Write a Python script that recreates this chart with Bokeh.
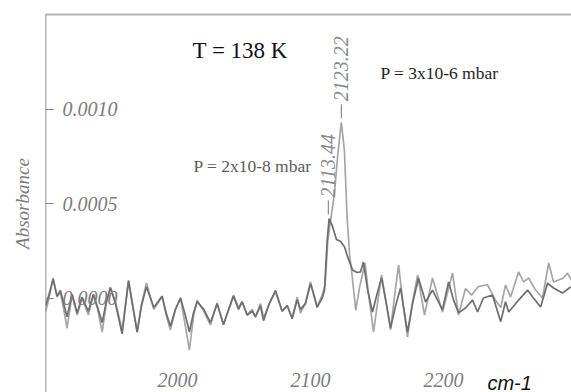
import math
from bokeh.plotting import figure
from bokeh.models import LinearAxis, FixedTicker, PrintfTickFormatter, Range1d, Label, ColumnDataSource
from bokeh.embed import file_html
from bokeh.resources import INLINE
from bokeh.core.properties import value

# ---------------- data ----------------
wn_light = [1901.0, 1903.5, 1906.5, 1909.5, 1912.0, 1914.5, 1917.0, 1920.8, 1924.6, 1928.3,
            1933.0, 1936.8, 1940.0, 1943.4, 1946.5, 1949.6, 1953.4, 1958.4, 1963.2, 1966.5,
            1969.7, 1973.0, 1976.7, 1982.2, 1988.5, 1991.5, 1994.7, 1998.5, 2002.3, 2005.5,
            2009.0, 2012.0, 2014.8, 2019.8, 2024.8, 2029.8, 2034.6, 2038.5, 2042.1, 2045.9,
            2048.6, 2052.4, 2056.2, 2058.6, 2062.4, 2064.7, 2069.0, 2073.7, 2078.7, 2082.5,
            2086.2, 2090.0, 2092.5, 2096.2, 2100.0, 2102.5, 2105.0, 2108.8, 2111.0, 2113.0,
            2115.5, 2118.0, 2120.5, 2123.2, 2125.5, 2127.5, 2129.5, 2131.0, 2134.0, 2137.0,
            2141.0, 2144.0, 2147.4, 2150.5, 2153.4, 2157.0, 2160.2, 2163.0, 2166.2, 2169.5,
            2172.9, 2176.5, 2180.5, 2185.7, 2191.7, 2199.2, 2206.8, 2211.3, 2216.5, 2221.0,
            2226.0, 2233.0, 2239.0, 2243.0, 2246.6, 2250.4, 2256.4, 2260.2, 2264.0, 2269.2,
            2274.4, 2279.0, 2282.7, 2286.5, 2290.2, 2293.2, 2296.2]
abs_light = [-0.000070, 0.000000, 0.000106, 0.000005, 0.000030, -0.000060, -0.000160, 0.000016, -0.000090, 0.000000,
             -0.000090, 0.000016, -0.000060, -0.000180, -0.000030, 0.000053, -0.000020, -0.000170, 0.000095, -0.000040,
             -0.000180, -0.000030, 0.000079, -0.000060, 0.000007, -0.000090, -0.000170, -0.000060, 0.000000, -0.000130,
             -0.000275, -0.000100, -0.000011, -0.000070, -0.000143, -0.000026, -0.000143, -0.000060, 0.000016, -0.000050,
             -0.000020, -0.000090, -0.000060, -0.000100, -0.000030, -0.000106, -0.000030, 0.000032, -0.000070, -0.000040,
             -0.000106, 0.000005, -0.000080, -0.000026, 0.000086, 0.000010, -0.000045, 0.000016, 0.000070, 0.000300,
             0.000430, 0.000550, 0.000760, 0.000930, 0.000780, 0.000430, 0.000220, 0.000140, -0.000065, 0.000060,
             0.000185, 0.000000, -0.000180, -0.000020, 0.000122, -0.000030, -0.000169, 0.000000, 0.000175, -0.000030,
             -0.000206, -0.000030, 0.000122, -0.000090, 0.000106, -0.000074, 0.000132, -0.000090, 0.000050, 0.000015,
             0.000060, 0.000070, -0.000010, -0.000050, 0.000069, 0.000005, 0.000138, 0.000085, 0.000106, 0.000042,
             0.000000, 0.000185, 0.000085, 0.000095, 0.000106, 0.000132, 0.000095]

wn_dark = [1901.0, 1903.5, 1906.5, 1909.5, 1912.0, 1914.5, 1917.0, 1920.8, 1924.6, 1928.3,
           1933.0, 1936.8, 1940.0, 1943.4, 1946.5, 1949.6, 1953.4, 1958.4, 1963.2, 1966.5,
           1969.7, 1973.0, 1976.7, 1982.2, 1988.5, 1991.5, 1994.7, 1998.5, 2002.3, 2005.5,
           2009.0, 2012.0, 2014.8, 2019.8, 2024.8, 2029.8, 2034.6, 2038.5, 2042.1, 2045.9,
           2048.6, 2052.4, 2056.2, 2058.6, 2062.4, 2064.7, 2069.0, 2073.7, 2078.7, 2082.5,
           2086.2, 2090.0, 2092.5, 2096.2, 2100.0, 2102.5, 2105.0, 2108.8, 2110.5, 2112.5,
           2114.0, 2116.5, 2119.5, 2122.5, 2125.6, 2127.8, 2131.6, 2135.0, 2137.6, 2139.8,
           2143.0, 2146.6, 2150.0, 2153.4, 2157.0, 2160.2, 2164.0, 2167.7, 2170.0, 2172.9,
           2177.0, 2181.2, 2186.5, 2191.7, 2199.2, 2203.8, 2207.5, 2211.3, 2216.5, 2221.8,
           2225.6, 2230.0, 2236.8, 2243.0, 2246.6, 2249.0, 2256.4, 2263.2, 2267.0, 2273.0,
           2278.2, 2282.7, 2289.5, 2295.5]
abs_dark = [-0.000040, 0.000020, 0.000100, 0.000010, 0.000040, -0.000030, -0.000100, 0.000020, -0.000080, 0.000005,
            -0.000070, 0.000020, -0.000050, -0.000130, -0.000020, 0.000055, -0.000030, -0.000190, 0.000090, -0.000050,
            -0.000180, -0.000040, 0.000060, -0.000050, 0.000010, -0.000080, -0.000150, -0.000060, 0.000000, -0.000080,
            -0.000180, -0.000080, -0.000020, -0.000060, -0.000130, -0.000030, -0.000140, -0.000060, 0.000010, -0.000060,
            -0.000020, -0.000090, -0.000070, -0.000100, -0.000040, -0.000120, -0.000030, 0.000040, -0.000070, -0.000040,
            -0.000110, -0.000010, -0.000060, -0.000030, 0.000075, 0.000020, -0.000050, 0.000000, 0.000040, 0.000300,
            0.000420, 0.000380, 0.000310, 0.000300, 0.000270, 0.000220, 0.000148, 0.000135, 0.000138, 0.000190,
            0.000040, -0.000074, 0.000020, 0.000106, -0.000030, -0.000159, -0.000040, 0.000053, -0.000050, -0.000180,
            -0.000020, 0.000106, -0.000021, 0.000042, -0.000063, 0.000085, -0.000010, -0.000079, -0.000053, -0.000011,
            -0.000074, 0.000000, 0.000016, -0.000125, -0.000020, -0.000074, -0.000011, 0.000042, 0.000005, -0.000048,
            0.000079, 0.000053, 0.000026, 0.000058]

peak_wn = [2113.44, 2123.22]
peak_abs = [0.00042, 0.00093]
peak_text = ["2113.44", "2123.22"]

x_ticks = [2000, 2100, 2200]
y_ticks = [0.0, 0.0005, 0.0010]

# ---------------- figure ----------------
W, H = 571, 392
X0, X1 = 1900.8, 2296.2
Y0, Y1 = -0.0005, 0.0015
FRAME_H = 378
PX_PER_Y = FRAME_H / (Y1 - Y0)

NARROW = "Liberation Sans Narrow"

p = figure(width=W, height=H, output_backend="svg", toolbar_location=None,
           x_range=Range1d(X0, X1), y_range=Range1d(Y0, Y1),
           min_border_left=45, min_border_right=0, min_border_top=14, min_border_bottom=0,
           outline_line_color=None, background_fill_color="white", border_fill_color="white")
p.grid.visible = False

# bottom axis: labels drawn inside the frame
xa = p.xaxis[0]
xa.fixed_location = Y0 + 22 / PX_PER_Y
xa.ticker = FixedTicker(ticks=x_ticks)
xa.axis_line_color = None
xa.major_tick_in = 0
xa.major_tick_out = 0
xa.minor_tick_in = 0
xa.minor_tick_out = 0
xa.major_label_standoff = 2
xa.major_label_text_font = NARROW
xa.major_label_text_font_style = "italic"
xa.major_label_text_font_size = "20px"
xa.major_label_text_color = "#7c7c7c"

# left axis: only its title
ya = p.yaxis[0]
ya.ticker = FixedTicker(ticks=[])
ya.axis_line_color = None
ya.major_tick_in = 0
ya.major_tick_out = 0
ya.minor_tick_in = 0
ya.minor_tick_out = 0
ya.axis_label = "Absorbance"
ya.axis_label_standoff = 13
ya.axis_label_text_font = NARROW
ya.axis_label_text_font_style = "italic"
ya.axis_label_text_font_size = "19px"
ya.axis_label_text_color = "#7c7c7c"

# visible y axis line, ticks and labels pointing into the frame
yr = LinearAxis(fixed_location=X0, ticker=FixedTicker(ticks=y_ticks),
                formatter=PrintfTickFormatter(format="%.4f"),
                axis_line_color="#707070", axis_line_width=1.5,
                major_tick_line_color="#808080", major_tick_line_width=1.2,
                major_tick_in=0, major_tick_out=8, minor_tick_in=0, minor_tick_out=0,
                major_label_standoff=9,
                major_label_text_font=NARROW, major_label_text_font_style="italic",
                major_label_text_font_size="20px", major_label_text_color="#7c7c7c")
p.add_layout(yr, "right")

# top border line
ta = LinearAxis(ticker=FixedTicker(ticks=[]), axis_line_color="#b4b4b4", axis_line_width=2,
                major_tick_in=0, major_tick_out=0, minor_tick_in=0, minor_tick_out=0,
                major_label_text_font_size="0px")
p.add_layout(ta, "above")

# spectra
p.line(wn_light, abs_light, line_color="#a6a6a6", line_width=1.7)
p.line(wn_dark, abs_dark, line_color="#6e6e6e", line_width=1.7)

# peak markers
gap0 = 4 / PX_PER_Y
gap1 = 18 / PX_PER_Y
gapt = 21 / PX_PER_Y
p.segment(x0=peak_wn, y0=[a + gap0 for a in peak_abs], x1=peak_wn, y1=[a + gap1 for a in peak_abs],
          line_color="#8c8c8c", line_width=1.2)
psrc = ColumnDataSource(dict(x=peak_wn, y=[a + gapt for a in peak_abs], t=peak_text))
p.text(x="x", y="y", text="t", source=psrc, angle=math.pi / 2,
       text_align="left", text_baseline="middle",
       text_font=value(NARROW), text_font_style="italic", text_font_size="20px",
       text_color="#8a8a8a")

# annotations
p.add_layout(Label(x=2011.3, y=0.00131, text="T = 138 K", text_font="Liberation Serif",
                   text_font_size="23px", text_color="#111111", text_baseline="alphabetic"))
p.add_layout(Label(x=2152.6, y=0.001188, text="P = 3x10-6 mbar", text_font="Liberation Serif",
                   text_font_size="17.5px", text_color="#1e1e1e", text_baseline="alphabetic"))
p.add_layout(Label(x=2012.0, y=0.000696, text="P = 2x10-8 mbar", text_font="Liberation Serif",
                   text_font_size="17.5px", text_color="#5c5c5c", text_baseline="alphabetic"))
p.add_layout(Label(x=2233.0, y=Y0 + 10 / PX_PER_Y, text="cm-1", text_font="Liberation Sans",
                   text_font_style="italic", text_font_size="20px", text_color="#111111",
                   text_baseline="alphabetic"))

open("out.html", "w").write(file_html(p, INLINE))
